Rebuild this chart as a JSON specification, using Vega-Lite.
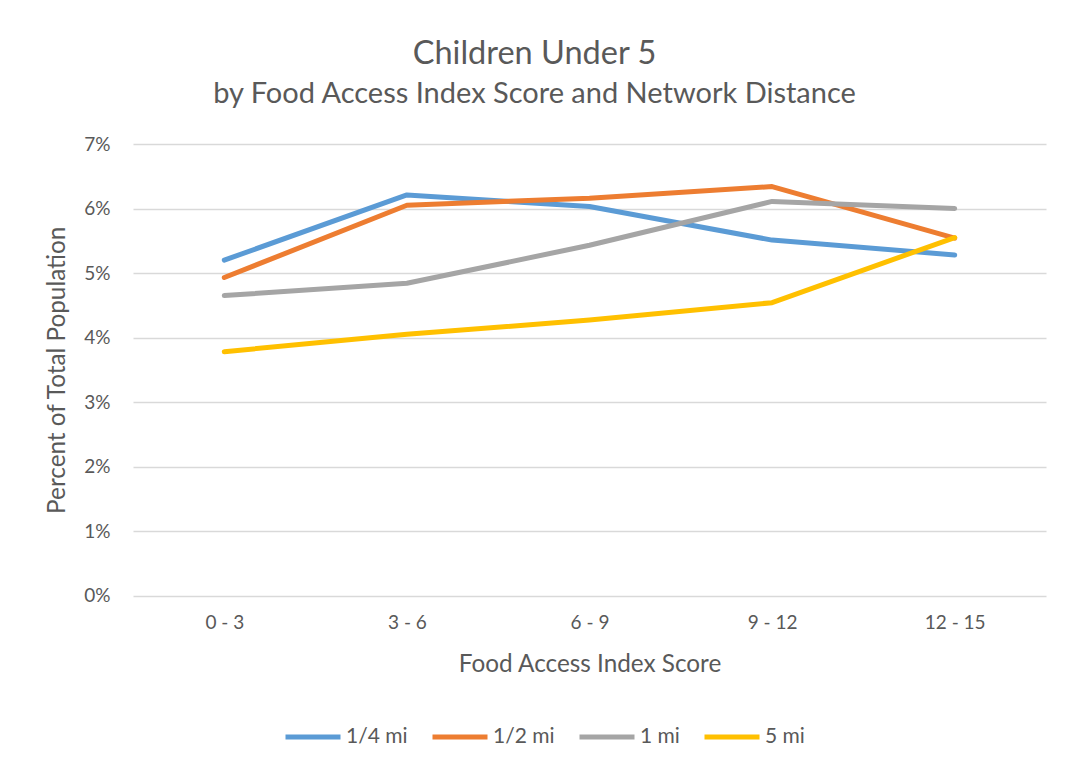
{
  "$schema": "https://vega.github.io/schema/vega-lite/v6.json",
  "width": 913,
  "height": 451.5,
  "autosize": {"type": "none"},
  "padding": {"left": 133, "top": 144, "right": 19, "bottom": 173.5},
  "background": "white",
  "title": {
    "text": "Children Under 5",
    "subtitle": "by Food Access Index Score and Network Distance",
    "anchor": "middle",
    "frame": "group",
    "dx": -55,
    "offset": 26,
    "font": "Lato",
    "fontSize": 32.5,
    "fontWeight": "normal",
    "color": "#595959",
    "subtitleFont": "Lato",
    "subtitleFontSize": 29,
    "subtitleColor": "#595959",
    "subtitlePadding": 10
  },
  "data": {
    "values": [
      {"score": "0 - 3", "distance": "1/4 mi", "pct": 5.20},
      {"score": "3 - 6", "distance": "1/4 mi", "pct": 6.21},
      {"score": "6 - 9", "distance": "1/4 mi", "pct": 6.03},
      {"score": "9 - 12", "distance": "1/4 mi", "pct": 5.51},
      {"score": "12 - 15", "distance": "1/4 mi", "pct": 5.28},
      {"score": "0 - 3", "distance": "1/2 mi", "pct": 4.93},
      {"score": "3 - 6", "distance": "1/2 mi", "pct": 6.05},
      {"score": "6 - 9", "distance": "1/2 mi", "pct": 6.16},
      {"score": "9 - 12", "distance": "1/2 mi", "pct": 6.34},
      {"score": "12 - 15", "distance": "1/2 mi", "pct": 5.54},
      {"score": "0 - 3", "distance": "1 mi", "pct": 4.65},
      {"score": "3 - 6", "distance": "1 mi", "pct": 4.84},
      {"score": "6 - 9", "distance": "1 mi", "pct": 5.43},
      {"score": "9 - 12", "distance": "1 mi", "pct": 6.11},
      {"score": "12 - 15", "distance": "1 mi", "pct": 6.00},
      {"score": "0 - 3", "distance": "5 mi", "pct": 3.78},
      {"score": "3 - 6", "distance": "5 mi", "pct": 4.05},
      {"score": "6 - 9", "distance": "5 mi", "pct": 4.27},
      {"score": "9 - 12", "distance": "5 mi", "pct": 4.54},
      {"score": "12 - 15", "distance": "5 mi", "pct": 5.55}
    ]
  },
  "mark": {"type": "line", "strokeWidth": 5, "strokeCap": "round", "strokeJoin": "round"},
  "encoding": {
    "x": {
      "field": "score",
      "type": "nominal",
      "sort": ["0 - 3", "3 - 6", "6 - 9", "9 - 12", "12 - 15"],
      "scale": {"type": "point", "padding": 0.5},
      "axis": {
        "title": "Food Access Index Score",
        "labelAngle": 0,
        "labelPadding": 18,
        "titlePadding": 20,
        "ticks": false,
        "domain": false,
        "grid": false
      }
    },
    "y": {
      "field": "pct",
      "type": "quantitative",
      "scale": {"domain": [0, 7], "nice": false},
      "axis": {
        "title": "Percent of Total Population",
        "values": [0, 1, 2, 3, 4, 5, 6, 7],
        "labelExpr": "datum.value + '%'",
        "labelPadding": 23,
        "titlePadding": 14,
        "ticks": false,
        "domain": false,
        "grid": true
      }
    },
    "color": {
      "field": "distance",
      "type": "nominal",
      "sort": ["1/4 mi", "1/2 mi", "1 mi", "5 mi"],
      "scale": {
        "domain": ["1/4 mi", "1/2 mi", "1 mi", "5 mi"],
        "range": ["#5B9BD5", "#ED7D31", "#A5A5A5", "#FFC000"]
      },
      "legend": {
        "title": null,
        "orient": "none",
        "direction": "horizontal",
        "legendX": 150,
        "legendY": 563,
        "symbolType": "stroke",
        "symbolSize": 3025,
        "symbolStrokeWidth": 5,
        "labelOffset": 3,
        "columnPadding": 14
      }
    }
  },
  "config": {
    "view": {"stroke": null},
    "axis": {
      "labelFont": "Lato",
      "labelFontSize": 19,
      "labelColor": "#595959",
      "titleFont": "Lato",
      "titleFontSize": 24.3,
      "titleFontWeight": "normal",
      "titleColor": "#595959",
      "gridColor": "#D9D9D9",
      "gridWidth": 1.5
    },
    "legend": {
      "labelFont": "Lato",
      "labelFontSize": 21,
      "labelColor": "#595959"
    }
  }
}
